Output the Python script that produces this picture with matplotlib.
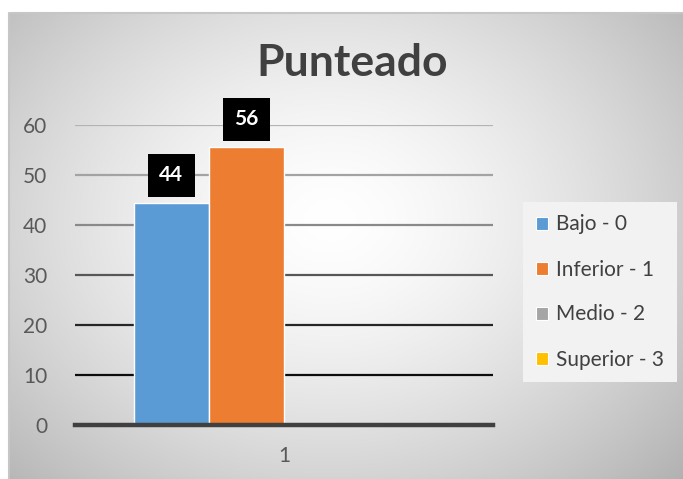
import numpy as np
import matplotlib.pyplot as plt
from matplotlib.patches import Patch

# data
series = ["Bajo - 0", "Inferior - 1", "Medio - 2", "Superior - 3"]
values = [44.4, 55.6, 0, 0]
labels = ["44", "56", "", ""]
colors = ["#5b9bd5", "#ed7d31", "#a5a5a5", "#ffc000"]
category = ["1"]
yticks = [0, 10, 20, 30, 40, 50, 60]
grid_colors = ["#b3b3b3", "#a3a3a3", "#8a8a8a", "#575757", "#262626", "#0d0d0d"]

plt.rcParams["font.family"] = ["Lato", "DejaVu Sans"]

W, H = 683, 479
fig = plt.figure(figsize=(W / 100, H / 100), dpi=100)
fig.patch.set_facecolor("white")

# radial gradient background of the chart frame
bg = fig.add_axes([9 / W, 0, 1 - 9 / W, 1 - 13 / H])
bg.set_axis_off()
xs = np.linspace(9, W, 400)
ys = np.linspace(13, H, 300)
X, Y = np.meshgrid(xs, ys)
r = np.sqrt(((X - 330) / 340) ** 2 + ((Y - 220) / 270) ** 2)
v = (255 - 46 * np.clip(r, 0, 1.6) ** 1.5) / 255
bg.imshow(np.dstack([v, v, v]), extent=[0, 1, 0, 1], aspect="auto", zorder=0)
bg.set_xlim(0, 1)
bg.set_ylim(0, 1)
bg.plot([0, 0, 1], [0, 1, 1], color="#c6c6c6", lw=1.5, transform=bg.transAxes, clip_on=False)

ax = fig.add_axes([75 / W, (H - 425) / H, 418 / W, 300 / H])
ax.set_facecolor("none")
ax.set_xlim(-0.5, 0.5)
ax.set_ylim(0, 60)

for y, c in zip(yticks[1:][::-1], grid_colors):
    ax.axhline(y, color=c, lw=1.6, zorder=1)
ax.axhline(0, color="#404040", lw=3.2, zorder=3, clip_on=False)

w = 0.18
offsets = (np.arange(len(series)) - 1.5) * w
for off, val, lab, col, name in zip(offsets, values, labels, colors, series):
    ax.bar(off, val, width=w, color=col, edgecolor="white", linewidth=1, zorder=2, label=name)
    if lab:
        ax.annotate(lab, (off, val), xytext=(0, 20), textcoords="offset points",
                    ha="center", va="center", color="white", fontsize=15, fontweight="bold",
                    bbox=dict(boxstyle="square,pad=0.55", fc="black", ec="none"),
                    zorder=5, annotation_clip=False)

for s in ax.spines.values():
    s.set_visible(False)
ax.set_yticks(yticks)
ax.set_xticks([0])
ax.set_xticklabels(category)
ax.tick_params(axis="both", length=0, labelsize=15, labelcolor="#595959")
ax.tick_params(axis="y", pad=20)
ax.tick_params(axis="x", pad=15)

fig.text(352 / W, 1 - 63 / H, "Punteado", ha="center", va="center", fontsize=32,
         fontweight="bold", color="#404040")

handles = [Patch(facecolor=c, edgecolor="white", lw=0.8) for c in colors]
leg = fig.legend(handles, series, loc="upper left", bbox_to_anchor=(523 / W, 1 - 202 / H),
                 frameon=True, fontsize=15, labelspacing=1.2, handlelength=0.6,
                 handleheight=0.6, handletextpad=0.4, borderpad=0.6, borderaxespad=0,
                 fancybox=False)
leg.get_frame().set_facecolor("#f2f2f2")
leg.get_frame().set_edgecolor("none")
leg.get_frame().set_alpha(1)
for t in leg.get_texts():
    t.set_color("#404040")

fig.savefig("out.png", dpi=100)
